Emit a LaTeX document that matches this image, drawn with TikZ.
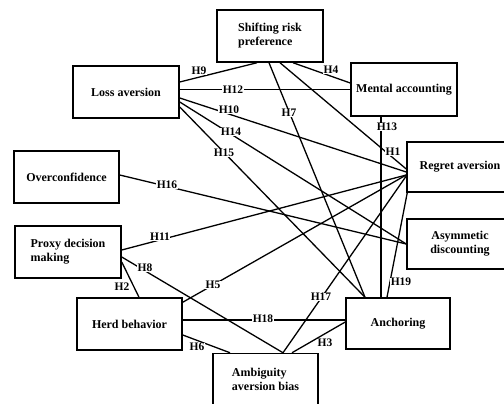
\documentclass[tikz,border=0pt]{standalone}
\usepackage{fontspec}
\setmainfont{Liberation Serif}
\begin{document}
\begin{tikzpicture}[x=1pt,y=-1pt,
  box/.style={draw, line width=1.5pt, inner sep=0pt, font=\bfseries\fontsize{12}{14}\selectfont, align=center},
  lbl/.style={fill=white, inner sep=0.4pt, font=\bfseries\fontsize{11.5}{13}\selectfont},
  conn/.style={line width=1.3pt}]
\useasboundingbox (0,0) rectangle (504,404);
\clip (0,0) rectangle (504,404);
% boxes
\node[box, minimum width=106pt, minimum height=52pt, align=left] (srp) at (270,36) {Shifting risk\\preference};
\node[box, minimum width=106pt, minimum height=53pt] (ma) at (404,89.5) {Mental accounting};
\node[box, minimum width=106pt, minimum height=52pt] (la) at (126,92) {Loss aversion};
\node[box, minimum width=105pt, minimum height=52pt] (oc) at (66.5,177) {Overconfidence};
\node[box, minimum width=106pt, minimum height=52pt, align=left] (pdm) at (68,252) {Proxy decision\\making};
\node[box, minimum width=105pt, minimum height=52pt] (hb) at (129.5,324) {Herd behavior};
\node[box, minimum width=105pt, minimum height=52pt, align=left] (aab) at (265.5,379.5) {Ambiguity\\aversion bias};
\node[box, minimum width=104pt, minimum height=51pt] (anc) at (398,323.5) {Anchoring};
\node[box, minimum width=106pt, minimum height=50pt] (ra) at (460,167) {Regret aversion};
\node[box, minimum width=106pt, minimum height=50pt] (ad) at (460,244) {Asymmetic\\discounting};
% connectors
\draw[conn] ([yshift=10pt]la.east) -- ([xshift=-13pt]srp.south); % H9
\draw[conn] (la.east |- ma.west) -- (ma.west); % H12
\draw[conn] ([xshift=23pt]srp.south) -- ([yshift=6.5pt]ma.west); % H4
\draw[conn] ([xshift=-1pt]srp.south) -- ([xshift=-33pt]anc.north); % H7
\draw[conn] ([xshift=10pt]srp.south) -- ([yshift=-2pt]ra.west); % H1
\draw[conn] ([xshift=-23pt]ma.south) -- ([xshift=-17pt]anc.north); % H13
\draw[conn] ([yshift=-6pt]la.east) -- ([yshift=-5pt]ra.west); % H10
\draw[conn] ([yshift=-10pt]la.east) -- (ad.west); % H14
\draw[conn] ([yshift=-15pt]la.east) -- ([xshift=-33pt]anc.north); % H15
\draw[conn] ([yshift=2pt]oc.east) -- (ad.west); % H16
\draw[conn] ([yshift=2pt]pdm.east) -- ([yshift=-8pt]ra.west); % H11
\draw[conn] ([yshift=-5pt]pdm.east) -- ([xshift=17.5pt]aab.north); % H8
\draw[conn] ([yshift=-10pt]pdm.east) -- ([xshift=9.5pt]hb.north); % H2
\draw[conn] ([yshift=-5pt]hb.north east) -- ([yshift=-8pt]ra.west); % H5
\draw[conn] ([yshift=4pt]hb.east) -- ([yshift=3.5pt]anc.west); % H18
\draw[conn] ([yshift=-11pt]hb.east) -- ([xshift=-35.5pt]aab.north); % H6
\draw[conn] ([yshift=1.5pt]anc.west) -- ([xshift=26.5pt]aab.north); % H3
\draw[conn] ([xshift=17.5pt]aab.north) -- ([yshift=-9pt]ra.west); % H17
\draw[conn] ([xshift=-11pt]anc.north) -- ([xshift=1pt]ra.south west); % H19
% labels
\node[lbl] (h9) at (199,71) {H9};
\node[lbl] (h12) at (233,90) {H12};
\node[lbl] (h4) at (331,70) {H4};
\node[lbl] (h10) at (229,110) {H10};
\node[lbl] (h7) at (289,113) {H7};
\node[lbl] (h14) at (231,132) {H14};
\node[lbl] (h13) at (387,127) {H13};
\node[lbl] (h1) at (393,152) {H1};
\node[lbl] (h15) at (224,153) {H15};
\node[lbl] (h16) at (167,185) {H16};
\node[lbl] (h11) at (160,237) {H11};
\node[lbl] (h8) at (145,268) {H8};
\node[lbl] (h2) at (122,287) {H2};
\node[lbl] (h5) at (213,285) {H5};
\node[lbl] (h17) at (321,297) {H17};
\node[lbl] (h19) at (401,282) {H19};
\node[lbl] (h18) at (263,319) {H18};
\node[lbl] (h6) at (197,347) {H6};
\node[lbl] (h3) at (325,343) {H3};
\end{tikzpicture}
\end{document}
